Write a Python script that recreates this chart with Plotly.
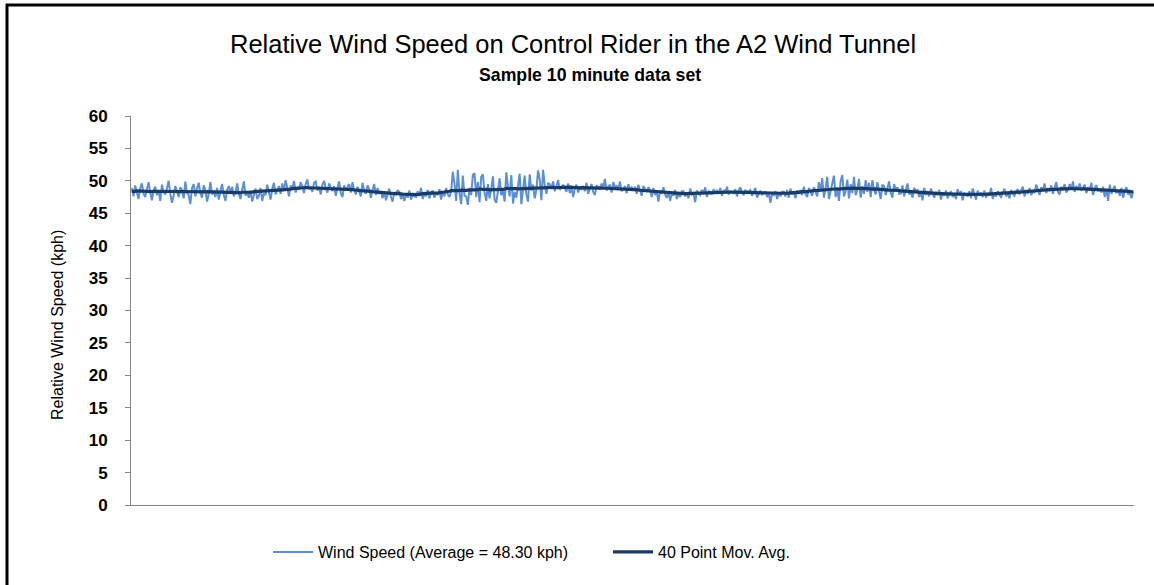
import plotly.graph_objects as go
import pandas as pd

# Wind speed samples (kph), 1 per second, 10 minutes
wind_speed = [
    48.9, 47.6, 49.3, 48.1, 47.2, 48.8, 49.6, 48.0, 47.5, 48.7,
    49.8, 48.2, 47.0, 48.5, 49.1, 47.8, 48.6, 46.9, 49.4, 48.3,
    47.9, 48.8, 50.0, 48.1, 46.6, 47.7, 49.2, 48.4, 47.5, 49.0,
    48.6, 47.3, 49.9, 48.2, 47.8, 46.4, 48.9, 49.5, 47.6, 48.8,
    49.7, 48.1, 47.4, 49.3, 48.6, 46.8, 48.0, 49.8, 47.9, 48.4,
    47.5, 48.9, 47.1, 48.4, 49.5, 47.8, 46.9, 48.6, 49.2, 48.0,
    49.1, 47.6, 48.3, 49.6, 48.0, 47.2, 48.7, 49.9, 47.7, 48.2,
    47.4, 48.5, 46.8, 47.9, 48.8, 47.2, 47.7, 48.9, 46.9, 48.1,
    47.8, 49.4, 48.2, 47.1, 48.8, 49.7, 47.9, 48.5, 49.2, 48.0,
    49.6, 48.4, 50.1, 48.9, 47.6, 49.3, 48.7, 50.0, 48.2, 49.1,
    48.6, 49.8, 49.2, 48.1, 49.5, 50.2, 48.7, 49.0, 48.3, 49.7,
    49.9, 48.5, 49.1, 47.9, 49.4, 50.0, 48.8, 48.2, 49.6, 49.0,
    48.4, 49.2, 47.7, 48.9, 49.9, 48.1, 47.5, 49.3, 48.6, 49.0,
    49.5, 48.2, 49.8, 48.6, 47.9, 49.1, 48.4, 47.6, 49.7, 48.5,
    48.0, 49.3, 48.7, 47.4, 48.6, 49.5, 47.8, 48.9, 48.1, 48.3,
    47.3, 48.4, 47.0, 48.1, 48.8, 47.5, 46.8, 48.2, 47.9, 48.5,
    48.3, 47.2, 47.8, 46.9, 48.0, 47.4, 48.5, 47.1, 47.9, 47.6,
    47.5, 48.4, 47.7, 48.9, 47.2, 48.1, 47.6, 48.6, 47.3, 48.2,
    48.5, 47.4, 48.2, 47.8, 48.7, 47.1, 48.4, 47.6, 48.9, 47.9,
    47.5, 48.3, 51.4, 49.6, 46.9, 51.7, 48.1, 46.4, 50.8, 47.7,
    47.6, 46.3, 48.9, 47.8, 50.9, 51.2, 47.5, 49.8, 46.7, 50.6,
    51.0, 48.2, 46.9, 49.5, 47.3, 48.8, 50.7, 47.1, 46.6, 48.4,
    50.4, 47.8, 48.5, 46.8, 51.3, 49.1, 47.6, 50.9, 46.5, 48.3,
    47.4, 49.2, 51.1, 46.4, 48.7, 50.8, 47.9, 46.8, 51.0, 48.5,
    49.4, 47.3, 48.6, 51.6, 50.2, 47.0, 51.7, 49.3, 48.0, 49.6,
    49.5, 48.7, 49.9, 48.4, 49.2, 50.1, 48.6, 49.0, 49.4, 48.8,
    48.3, 49.6, 48.1, 49.0, 47.5, 48.9, 49.4, 48.2, 49.1, 48.6,
    49.2, 48.4, 49.7, 48.0, 48.9, 49.5, 48.3, 47.8, 49.3, 48.9,
    48.7, 49.6, 48.9, 50.3, 48.5, 49.1, 49.4, 48.2, 49.8, 48.9,
    49.3, 48.6, 49.9, 48.4, 48.8, 49.2, 48.1, 49.5, 48.7, 49.0,
    48.5, 49.1, 48.0, 49.4, 48.6, 47.7, 49.2, 48.8, 48.3, 49.0,
    48.6, 47.5, 48.9, 47.8, 48.3, 46.8, 48.5, 48.0, 49.0, 47.9,
    47.4, 48.3, 46.9, 48.1, 47.7, 48.6, 47.2, 48.0, 47.5, 48.4,
    48.4, 47.6, 48.2, 47.3, 48.8, 47.9, 48.1, 46.7, 48.5, 48.0,
    47.8, 48.6, 48.1, 49.0, 47.5, 48.4, 48.3, 47.9, 48.7, 48.2,
    48.5, 48.0, 48.9, 47.7, 48.6, 48.2, 49.1, 47.9, 48.4, 48.3,
    48.1, 48.7, 47.6, 48.5, 49.0, 48.2, 47.8, 48.6, 48.3, 48.4,
    48.6, 47.7, 48.3, 48.9, 47.4, 48.1, 48.5, 47.9, 48.0, 48.4,
    47.5, 48.2, 46.6, 48.0, 47.8, 48.4, 47.2, 48.1, 47.6, 48.3,
    48.3, 47.6, 48.6, 47.4, 48.8, 47.9, 48.2, 47.3, 48.5, 48.0,
    48.6, 47.8, 49.1, 48.0, 47.5, 48.9, 48.2, 47.7, 49.0, 48.4,
    47.6, 49.8, 48.3, 50.4, 47.4, 48.9, 50.6, 47.2, 48.5, 49.7,
    50.8, 47.5, 48.8, 46.9, 49.9, 50.9, 47.6, 48.4, 50.2, 47.3,
    49.5, 48.1, 50.6, 47.8, 48.6, 50.3, 47.4, 49.2, 48.0, 50.1,
    48.3, 49.7, 47.5, 50.1, 48.6, 47.9, 49.8, 48.4, 47.2, 49.4,
    49.2, 47.8, 48.9, 49.9, 48.1, 47.4, 49.5, 48.5, 49.0, 48.0,
    48.0, 49.3, 47.6, 48.8, 49.6, 47.9, 48.2, 47.4, 48.9, 48.5,
    48.6, 47.5, 48.3, 47.0, 48.9, 47.8, 48.4, 47.6, 48.8, 48.0,
    47.4, 48.3, 47.8, 48.6, 47.1, 48.2, 47.7, 48.5, 47.3, 48.1,
    48.3, 47.5, 48.0, 47.2, 48.7, 47.8, 48.4, 47.0, 48.1, 47.9,
    47.6, 48.4, 47.3, 48.8, 47.9, 47.1, 48.5, 47.7, 48.2, 47.5,
    48.5, 47.4, 48.1, 47.7, 48.9, 47.2, 48.0, 47.6, 48.4, 47.8,
    47.5, 48.3, 48.8, 47.6, 48.1, 47.3, 48.6, 48.0, 47.7, 48.4,
    48.7, 47.9, 48.4, 49.1, 47.6, 48.5, 48.0, 48.9, 47.8, 48.3,
    48.2, 49.4, 48.7, 47.8, 49.0, 48.5, 49.6, 48.1, 48.8, 48.4,
    49.3, 48.0, 48.9, 49.8, 48.3, 47.9, 49.1, 48.6, 49.5, 48.2,
    48.6, 49.5, 48.8, 49.9, 48.3, 49.2, 48.7, 49.6, 48.5, 49.0,
    49.4, 48.1, 49.0, 48.6, 49.7, 47.8, 48.9, 49.3, 48.4, 48.8,
    48.2, 49.1, 47.5, 48.8, 46.9, 49.4, 48.0, 48.7, 49.2, 48.1,
    48.6, 47.7, 48.9, 47.4, 48.5, 49.0, 47.9, 48.2, 47.3, 48.4,
]
samples = list(range(1, len(wind_speed) + 1))
y_ticks = [0, 5, 10, 15, 20, 25, 30, 35, 40, 45, 50, 55, 60]

title_text = "Relative Wind Speed on Control Rider in the A2 Wind Tunnel"
subtitle_text = "Sample 10 minute data set"
y_title = "Relative Wind Speed (kph)"
name_ws = "Wind Speed (Average = 48.30 kph)"
name_ma = "40 Point Mov. Avg."

mov_avg = pd.Series(wind_speed).rolling(40, center=True, min_periods=1).mean().tolist()

FONT = "Liberation Sans, Arial, sans-serif"

L, R, T, B = 131, 20, 116, 80
W, H = 1154, 585
pw, ph = W - L - R, H - T - B

def px_x(px):
    return (px - L) / pw

def px_y(py):
    return (H - B - py) / ph

fig = go.Figure()
fig.add_trace(go.Scatter(x=samples, y=wind_speed, mode="lines", name=name_ws,
                         line=dict(color="#5B8FD6", width=2)))
fig.add_trace(go.Scatter(x=samples, y=mov_avg, mode="lines", name=name_ma,
                         line=dict(color="#1B3A63", width=3.2)))

fig.update_layout(
    width=W, height=H,
    margin=dict(l=L, r=R, t=T, b=B),
    paper_bgcolor="white", plot_bgcolor="white",
    font=dict(family=FONT, color="black"),
    showlegend=True,
    legend=dict(orientation="h", x=px_x(268), xanchor="left", y=px_y(552), yanchor="middle",
                font=dict(size=16, family=FONT), itemwidth=40, bgcolor="rgba(0,0,0,0)",
                entrywidth=285, entrywidthmode="pixels"),
    xaxis=dict(range=[0.5, len(wind_speed) + 0.5], showticklabels=False, ticks="",
               showgrid=False, zeroline=False, showline=True, linecolor="#868686", linewidth=1),
    yaxis=dict(range=[0, 60], tickvals=y_ticks, ticks="outside", ticklen=5, tickcolor="#868686",
               showgrid=False, zeroline=False, showline=True, linecolor="#868686", linewidth=1,
               tickfont=dict(size=17, family=FONT, color="black", weight="bold"),
               ticklabelstandoff=14),
    annotations=[
        dict(text=title_text, x=px_x(573), y=px_y(44), xref="paper", yref="paper",
             showarrow=False, font=dict(size=25.5, family=FONT, color="black"),
             xanchor="center", yanchor="middle"),
        dict(text="<b>" + subtitle_text + "</b>", x=px_x(590), y=px_y(75), xref="paper", yref="paper",
             showarrow=False, font=dict(size=17.7, family=FONT, color="black"),
             xanchor="center", yanchor="middle"),
        dict(text=y_title, x=px_x(57), y=px_y(325), xref="paper", yref="paper",
             showarrow=False, textangle=-90, font=dict(size=16, family=FONT, color="black"),
             xanchor="center", yanchor="middle"),
    ],
    shapes=[
        dict(type="line", xref="paper", yref="paper",
             x0=px_x(7), x1=px_x(7), y0=px_y(585), y1=px_y(4),
             line=dict(color="black", width=3), layer="above"),
        dict(type="line", xref="paper", yref="paper",
             x0=px_x(6), x1=px_x(1154), y0=px_y(5), y1=px_y(5),
             line=dict(color="black", width=3), layer="above"),
    ],
)

fig.write_html("out.html", config={"displayModeBar": False},
               post_script="document.body.style.margin='0';document.body.style.padding='0';")
